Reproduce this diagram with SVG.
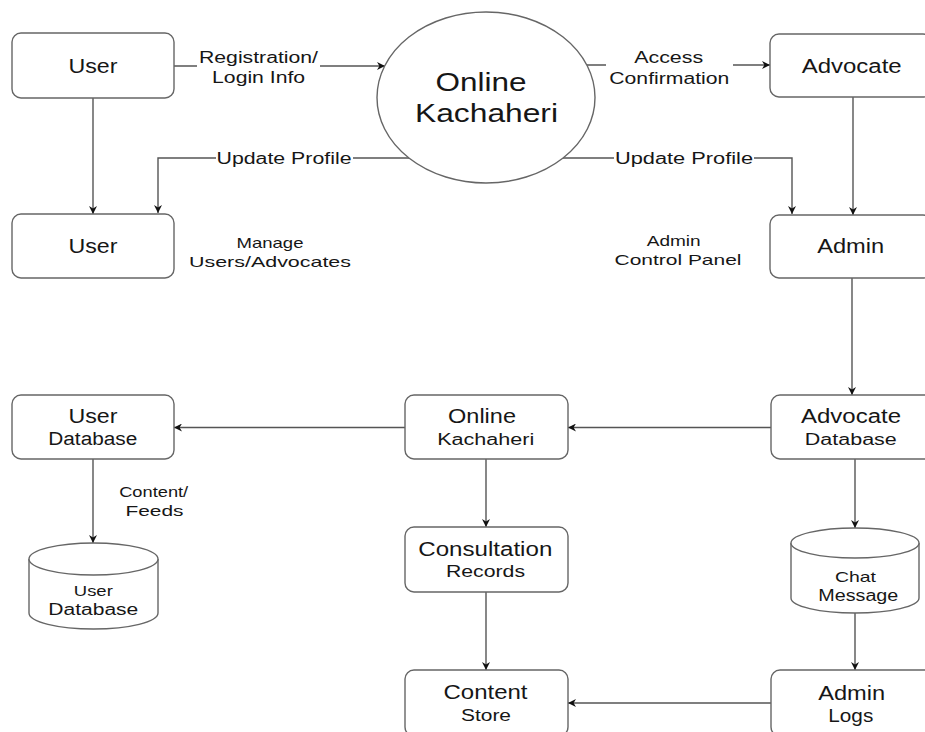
<svg xmlns="http://www.w3.org/2000/svg" width="925" height="732" viewBox="0 0 925 732">
<style>
.box{fill:#fff;stroke:#666;stroke-width:1.4}
.cyl{fill:#fff;stroke:#666;stroke-width:1.4}
.ln{fill:none;stroke:#555;stroke-width:1.4;marker-end:url(#ah)}
text{font-family:"Liberation Sans",Arial,sans-serif;fill:#161616;text-anchor:middle}
.t1{font-size:20px}
.t5{font-size:18px}
.t2{font-size:16px}
.t3{font-size:15px}
.t4{font-size:26px}
.bg{fill:#fff}
</style>
<defs>
<marker id="ah" viewBox="0 0 10 10" refX="10" refY="5" markerWidth="9" markerHeight="8" markerUnits="userSpaceOnUse" orient="auto">
<path d="M0,0 L10,5 L0,10 L3,5 Z" fill="#111"/>
</marker>
</defs>
<rect width="925" height="732" fill="#fff"/>

<g id="connectors">
<path class="ln" d="M93,98 V214"/>
<path class="ln" d="M174,66 H385"/>
<path class="ln" d="M587,65 H770"/>
<path class="ln" d="M409,158 H158 V213"/>
<path class="ln" d="M563,158 H792 V214"/>
<path class="ln" d="M853,97 V215"/>
<path class="ln" d="M852,278 V395"/>
<path class="ln" d="M771,427.5 H568"/>
<path class="ln" d="M405,427.5 H174"/>
<path class="ln" d="M93,459 V543"/>
<path class="ln" d="M486,459 V527"/>
<path class="ln" d="M486,592 V670"/>
<path class="ln" d="M855,459 V528"/>
<path class="ln" d="M855,613 V670"/>
<path class="ln" d="M771,703 H568"/>
<g id="edge-labels">
<rect class="bg" x="197" y="47" width="123" height="41"/>
<text class="t2" x="258.5" y="63" textLength="119" lengthAdjust="spacingAndGlyphs">Registration/</text>
<text class="t2" x="258.6" y="83" textLength="93" lengthAdjust="spacingAndGlyphs">Login Info</text>
<rect class="bg" x="606" y="46" width="127" height="42"/>
<text class="t2" x="668.7" y="63.3" textLength="69" lengthAdjust="spacingAndGlyphs">Access</text>
<text class="t2" x="669.3" y="84" textLength="120" lengthAdjust="spacingAndGlyphs">Confirmation</text>
<rect class="bg" x="216" y="150" width="137" height="17"/>
<text class="t2" x="284" y="164" textLength="135" lengthAdjust="spacingAndGlyphs">Update Profile</text>
<rect class="bg" x="614" y="150" width="140" height="17"/>
<text class="t2" x="684" y="164" textLength="138" lengthAdjust="spacingAndGlyphs">Update Profile</text>
<text class="t3" x="270" y="248" textLength="67" lengthAdjust="spacingAndGlyphs">Manage</text>
<text class="t3" x="270" y="267" textLength="162" lengthAdjust="spacingAndGlyphs">Users/Advocates</text>
<text class="t3" x="673.7" y="246" textLength="54" lengthAdjust="spacingAndGlyphs">Admin</text>
<text class="t3" x="678" y="265" textLength="127" lengthAdjust="spacingAndGlyphs">Control Panel</text>
<text class="t3" x="153.7" y="497.3" textLength="69" lengthAdjust="spacingAndGlyphs">Content/</text>
<text class="t3" x="154.5" y="516" textLength="58" lengthAdjust="spacingAndGlyphs">Feeds</text>
</g>
</g>

<g id="user">
<rect class="box" x="12" y="33" width="162" height="65" rx="9"/>
<text class="t1" x="93" y="73" textLength="49" lengthAdjust="spacingAndGlyphs">User</text>
</g>
<g id="user2">
<rect class="box" x="12" y="214" width="162" height="64" rx="9"/>
<text class="t1" x="93" y="253" textLength="49" lengthAdjust="spacingAndGlyphs">User</text>
</g>
<g id="online-kachaheri-process">
<ellipse class="box" cx="486" cy="97.5" rx="109" ry="85.5"/>
<text class="t4" x="481" y="90.5" textLength="91" lengthAdjust="spacingAndGlyphs">Online</text>
<text class="t4" x="486.5" y="121.5" textLength="143" lengthAdjust="spacingAndGlyphs">Kachaheri</text>
</g>
<g id="advocate">
<rect class="box" x="770" y="34" width="162" height="63" rx="9"/>
<text class="t1" x="851.7" y="72.7" textLength="100" lengthAdjust="spacingAndGlyphs">Advocate</text>
</g>
<g id="admin">
<rect class="box" x="770" y="215" width="162" height="63" rx="9"/>
<text class="t1" x="850.7" y="253.3" textLength="67" lengthAdjust="spacingAndGlyphs">Admin</text>
</g>
<g id="advocate-database">
<rect class="box" x="771" y="395" width="162" height="64" rx="9"/>
<text class="t1" x="851" y="422.7" textLength="100" lengthAdjust="spacingAndGlyphs">Advocate</text>
<text class="t2" x="850.8" y="445" textLength="92" lengthAdjust="spacingAndGlyphs">Database</text>
</g>
<g id="online-kachaheri">
<rect class="box" x="405" y="395" width="163" height="64" rx="9"/>
<text class="t1" x="482" y="423.3" textLength="68" lengthAdjust="spacingAndGlyphs">Online</text>
<text class="t2" x="485.7" y="445" textLength="97" lengthAdjust="spacingAndGlyphs">Kachaheri</text>
</g>
<g id="user-database">
<rect class="box" x="12" y="395" width="162" height="64" rx="9"/>
<text class="t1" x="93" y="423.3" textLength="49" lengthAdjust="spacingAndGlyphs">User</text>
<text class="t5" x="92.8" y="445" textLength="89" lengthAdjust="spacingAndGlyphs">Database</text>
</g>
<g id="user-database-store">
<path class="cyl" d="M29,559 A64.5,16 0 0 1 158,559 V613 A64.5,16 0 0 1 29,613 Z"/>
<path class="cyl" fill="none" d="M29,559 A64.5,16 0 0 0 158,559"/>
<text class="t3" x="93.3" y="596" textLength="39" lengthAdjust="spacingAndGlyphs">User</text>
<text class="t2" x="93.3" y="615" textLength="90" lengthAdjust="spacingAndGlyphs">Database</text>
</g>
<g id="consultation-records">
<rect class="box" x="405" y="527" width="163" height="65" rx="9"/>
<text class="t1" x="485.3" y="556" textLength="134" lengthAdjust="spacingAndGlyphs">Consultation</text>
<text class="t2" x="485.5" y="577.3" textLength="79" lengthAdjust="spacingAndGlyphs">Records</text>
</g>
<g id="content-store">
<rect class="box" x="405" y="670" width="163" height="66" rx="9"/>
<text class="t1" x="485.5" y="699.3" textLength="84" lengthAdjust="spacingAndGlyphs">Content</text>
<text class="t2" x="486" y="720.7" textLength="50" lengthAdjust="spacingAndGlyphs">Store</text>
</g>
<g id="chat-message">
<path class="cyl" d="M791,543 A64,15 0 0 1 919,543 V598 A64,15 0 0 1 791,598 Z"/>
<path class="cyl" fill="none" d="M791,543 A64,15 0 0 0 919,543"/>
<text class="t3" x="855.5" y="581.7" textLength="41" lengthAdjust="spacingAndGlyphs">Chat</text>
<text class="t2" x="858.3" y="600.5" textLength="80" lengthAdjust="spacingAndGlyphs">Message</text>
</g>
<g id="admin-logs">
<rect class="box" x="771" y="670" width="162" height="66" rx="9"/>
<text class="t1" x="851.7" y="700" textLength="67" lengthAdjust="spacingAndGlyphs">Admin</text>
<text class="t5" x="850.8" y="721.7" textLength="45" lengthAdjust="spacingAndGlyphs">Logs</text>
</g>
</svg>
